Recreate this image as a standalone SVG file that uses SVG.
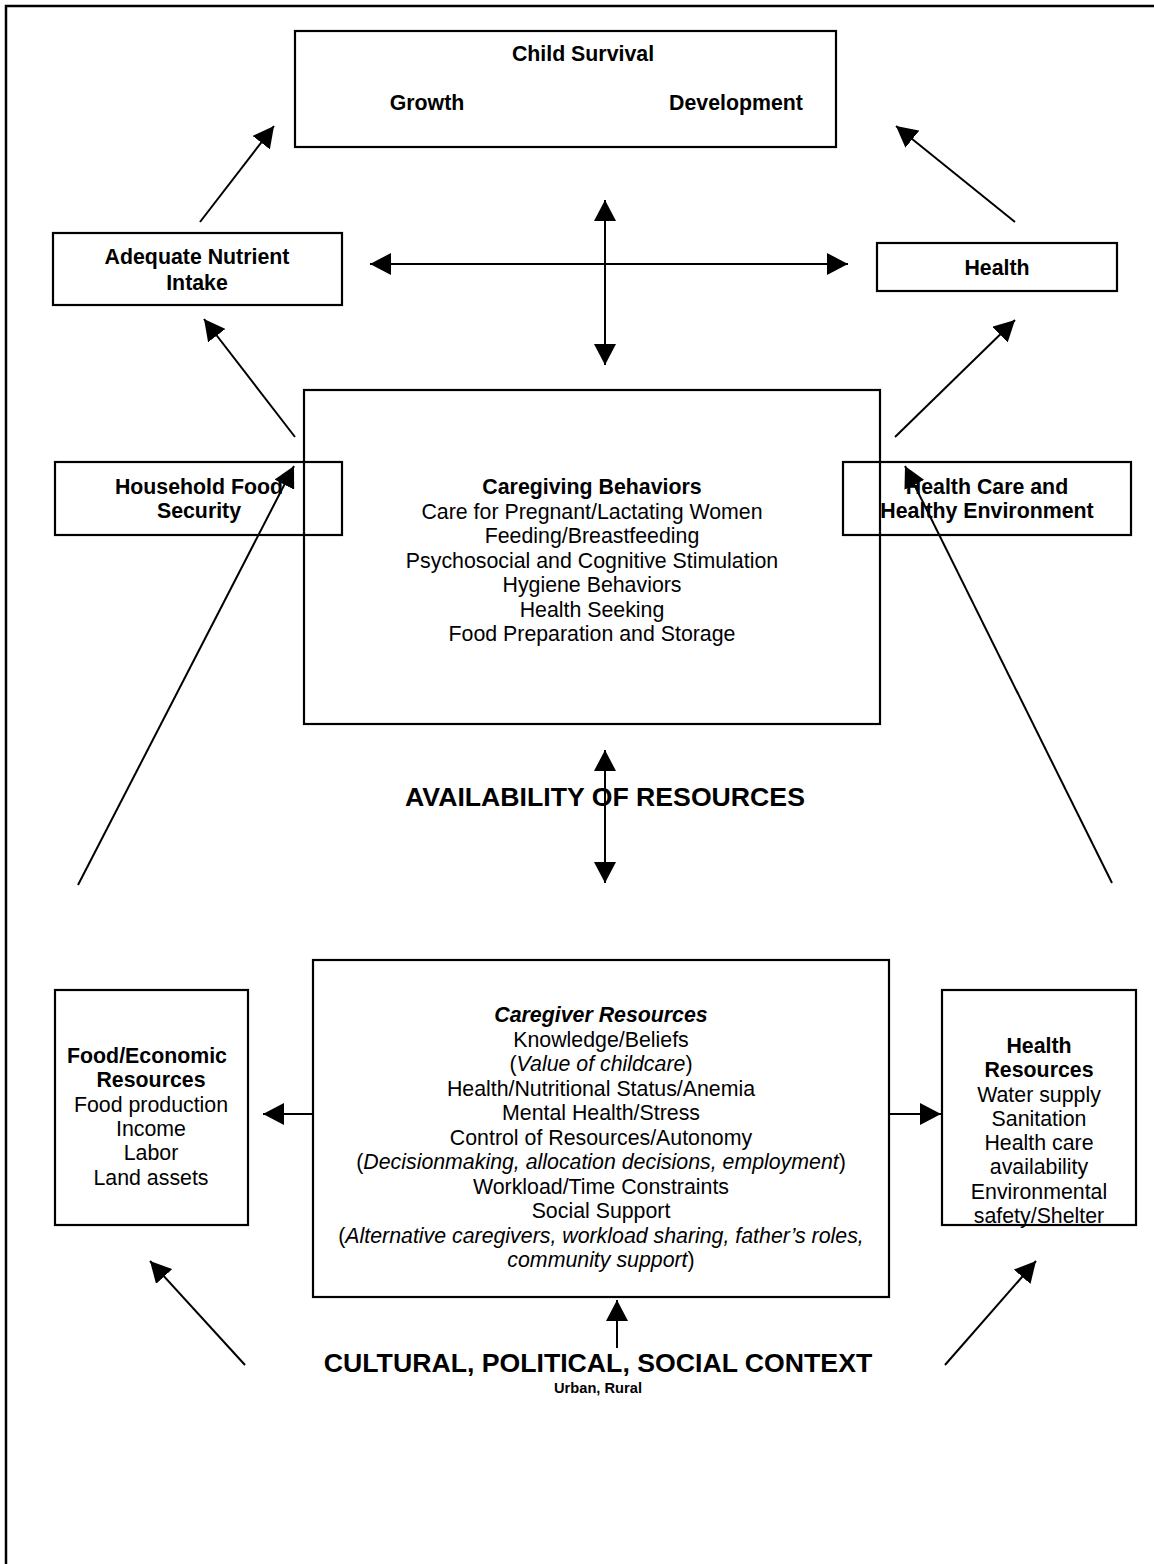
<svg xmlns="http://www.w3.org/2000/svg" width="1154" height="1564" viewBox="0 0 1154 1564">
<defs>
<marker id="ah" markerUnits="userSpaceOnUse" markerWidth="21" markerHeight="22" refX="21" refY="11" orient="auto-start-reverse" viewBox="0 0 21 22">
<path d="M0,0 L21,11 L0,22 z" fill="#000"/>
</marker>
<style>
.box{fill:#fff;stroke:#000;stroke-width:2.2}
.open{fill:none}
.frame{stroke:#000;stroke-width:2.5;fill:none}
.t{font-family:"Liberation Sans",Arial,sans-serif;font-size:21.33px;fill:#000;text-anchor:middle}
.b{font-weight:bold}
.i{font-style:italic}
.big{font-family:"Liberation Sans",Arial,sans-serif;font-size:26.67px;font-weight:bold;fill:#000;text-anchor:middle}
.sm{font-family:"Liberation Sans",Arial,sans-serif;font-size:14.67px;font-weight:bold;fill:#000;text-anchor:middle}
.a{stroke:#000;stroke-width:2;fill:none;marker-end:url(#ah)}
.d{stroke:#000;stroke-width:2;fill:none;marker-end:url(#ah);marker-start:url(#ah)}
</style>
</defs>
<rect width="1154" height="1564" fill="#fff"/>
<path class="frame" d="M6,1564 V6 H1154"/>

<g id="child-survival">
<rect class="box" x="295" y="31" width="541" height="116"/>
<text class="t b" x="583" y="61">Child Survival</text>
<text class="t b" x="427" y="110">Growth</text>
<text class="t b" x="736" y="110">Development</text>
</g>

<g id="adequate-nutrient-intake">
<rect class="box" x="53" y="233" width="289" height="72"/>
<text class="t b" x="197" y="264">Adequate Nutrient</text>
<text class="t b" x="197" y="290">Intake</text>
</g>

<g id="health">
<rect class="box" x="877" y="243" width="240" height="48"/>
<text class="t b" x="997" y="275">Health</text>
</g>

<g id="caregiving-behaviors">
<rect class="box open" x="304" y="390" width="576" height="334"/>
<text class="t b" x="592" y="494">Caregiving Behaviors</text>
<text class="t" x="592" y="518.5">Care for Pregnant/Lactating Women</text>
<text class="t" x="592" y="543">Feeding/Breastfeeding</text>
<text class="t" x="592" y="567.5">Psychosocial and Cognitive Stimulation</text>
<text class="t" x="592" y="592">Hygiene Behaviors</text>
<text class="t" x="592" y="616.5">Health Seeking</text>
<text class="t" x="592" y="641">Food Preparation and Storage</text>
</g>

<g id="household-food-security">
<rect class="box open" x="55" y="462" width="287" height="73"/>
<text class="t b" x="199" y="494">Household Food</text>
<text class="t b" x="199" y="518">Security</text>
</g>

<g id="health-care-environment">
<rect class="box open" x="843" y="462" width="288" height="73"/>
<text class="t b" x="987" y="494">Health Care and</text>
<text class="t b" x="987" y="518">Healthy Environment</text>
</g>

<g id="availability-label">
<text class="big" x="605" y="806">AVAILABILITY OF RESOURCES</text>
</g>

<g id="food-economic-resources">
<rect class="box" x="55" y="990" width="193" height="235"/>
<text class="t b" x="147" y="1063">Food/Economic</text>
<text class="t b" x="151" y="1087">Resources</text>
<text class="t" x="151" y="1112">Food production</text>
<text class="t" x="151" y="1136">Income</text>
<text class="t" x="151" y="1160">Labor</text>
<text class="t" x="151" y="1185">Land assets</text>
</g>

<g id="caregiver-resources">
<rect class="box" x="313" y="960" width="576" height="337"/>
<text class="t b i" x="601" y="1022">Caregiver Resources</text>
<text class="t" x="601" y="1046.5">Knowledge/Beliefs</text>
<text class="t" x="601" y="1071">(<tspan class="i">Value of childcare</tspan>)</text>
<text class="t" x="601" y="1095.5">Health/Nutritional Status/Anemia</text>
<text class="t" x="601" y="1120">Mental Health/Stress</text>
<text class="t" x="601" y="1144.5">Control of Resources/Autonomy</text>
<text class="t" x="601" y="1169">(<tspan class="i">Decisionmaking, allocation decisions, employment</tspan>)</text>
<text class="t" x="601" y="1193.5">Workload/Time Constraints</text>
<text class="t" x="601" y="1218">Social Support</text>
<text class="t" x="601" y="1242.5">(<tspan class="i">Alternative caregivers, workload sharing, father’s roles,</tspan></text>
<text class="t" x="601" y="1267"><tspan class="i">community support</tspan>)</text>
</g>

<g id="health-resources">
<rect class="box" x="942" y="990" width="194" height="235"/>
<text class="t b" x="1039" y="1053">Health</text>
<text class="t b" x="1039" y="1077">Resources</text>
<text class="t" x="1039" y="1102">Water supply</text>
<text class="t" x="1039" y="1126">Sanitation</text>
<text class="t" x="1039" y="1150">Health care</text>
<text class="t" x="1039" y="1174">availability</text>
<text class="t" x="1039" y="1199">Environmental</text>
<text class="t" x="1039" y="1223">safety/Shelter</text>
</g>

<g id="context-label">
<text class="big" x="598" y="1372">CULTURAL, POLITICAL, SOCIAL CONTEXT</text>
<text class="sm" x="598" y="1393">Urban, Rural</text>
</g>

<g id="connectors">
<line class="a" x1="200" y1="222" x2="274" y2="126"/>
<line class="a" x1="1015" y1="222" x2="896" y2="126"/>
<line class="d" x1="370" y1="264" x2="848" y2="264"/>
<line class="d" x1="605" y1="200" x2="605" y2="365"/>
<line class="a" x1="295" y1="437" x2="204" y2="319"/>
<line class="a" x1="895" y1="437" x2="1015" y2="320"/>
<line class="d" x1="605" y1="750" x2="605" y2="883"/>
<line class="a" x1="78" y1="885" x2="294" y2="466"/>
<line class="a" x1="1112" y1="883" x2="905" y2="466"/>
<line class="a" x1="313" y1="1114" x2="263" y2="1114"/>
<line class="a" x1="889" y1="1114" x2="941" y2="1114"/>
<line class="a" x1="245" y1="1365" x2="150" y2="1261"/>
<line class="a" x1="945" y1="1365" x2="1036" y2="1261"/>
<line class="a" x1="617" y1="1348" x2="617" y2="1300"/>
</g>
</svg>
